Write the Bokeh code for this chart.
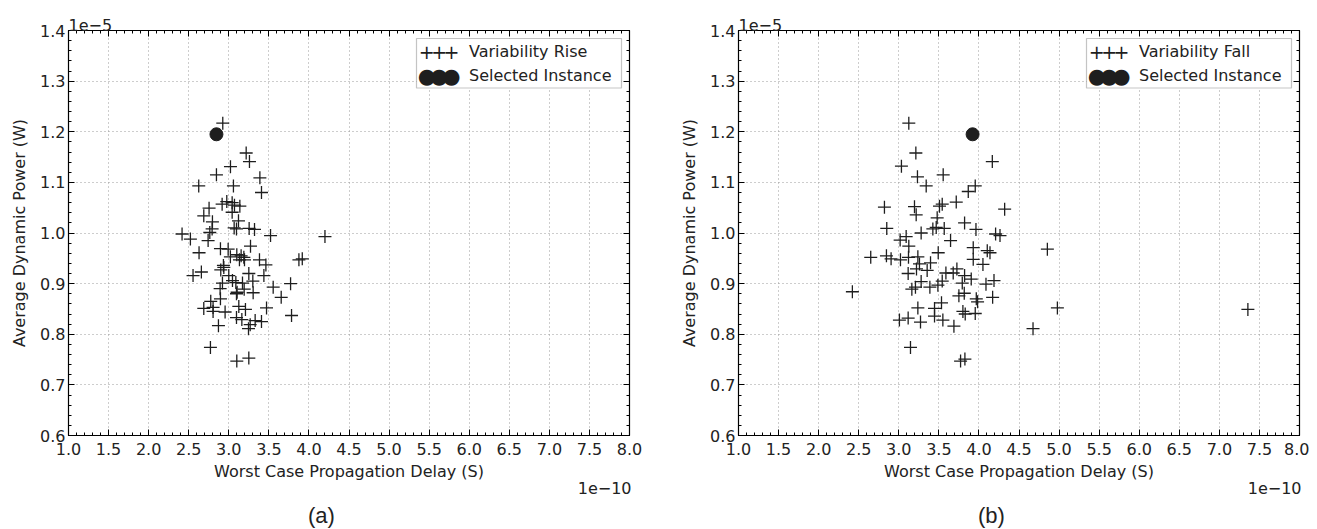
from bokeh.plotting import figure
from bokeh.models import (FixedTicker, LinearAxis, Label, BoxAnnotation, Title,
                          PrintfTickFormatter, Range1d, CustomJSTickFormatter, ColumnDataSource)
from bokeh.layouts import row
from bokeh.embed import file_html
from bokeh.resources import INLINE

# ---- data (delay in units of 1e-10 s, power in units of 1e-5 W) ----
rise_delay = [2.925, 3.217, 3.258, 3.021, 2.846, 3.388, 2.625, 3.058, 3.408, 2.917,
              2.975, 3.042, 3.071, 3.138, 2.754, 2.688, 3.042, 2.796, 3.121, 3.067,
              2.792, 3.096, 3.254, 3.321, 2.763, 2.417, 2.521, 2.742, 3.521, 4.200,
              3.271, 2.896, 2.992, 2.629, 3.154, 3.188, 3.133, 3.196, 3.875, 3.917,
              3.383, 3.463, 2.933, 2.658, 2.554, 2.900, 3.000, 3.250, 3.438, 3.046,
              3.088, 2.921, 3.171, 3.300, 3.771, 3.554, 2.892, 3.192, 3.304, 3.096,
              3.654, 2.896, 2.775, 2.804, 2.688, 2.804, 2.954, 3.125, 3.208, 3.471,
              3.096, 3.163, 3.783, 3.329, 3.408, 3.267, 2.871, 3.246, 2.771, 3.100,
              3.250, 2.938, 3.104, 3.020, 3.100]
rise_power = [1.217, 1.158, 1.141, 1.131, 1.115, 1.109, 1.093, 1.093, 1.080, 1.057,
              1.062, 1.060, 1.055, 1.053, 1.049, 1.034, 1.041, 1.022, 1.024, 1.010,
              1.008, 1.008, 1.009, 1.007, 1.001, 0.998, 0.988, 0.985, 0.995, 0.993,
              0.974, 0.969, 0.968, 0.961, 0.955, 0.952, 0.947, 0.947, 0.947, 0.949,
              0.947, 0.937, 0.936, 0.923, 0.916, 0.927, 0.916, 0.920, 0.916, 0.906,
              0.902, 0.901, 0.901, 0.905, 0.900, 0.893, 0.890, 0.889, 0.882, 0.880,
              0.873, 0.870, 0.865, 0.853, 0.851, 0.845, 0.844, 0.855, 0.849, 0.852,
              0.833, 0.829, 0.837, 0.827, 0.825, 0.819, 0.817, 0.811, 0.774, 0.747,
              0.753, 0.932, 0.883, 0.953, 0.957]

fall_delay = [3.125, 3.213, 4.167, 3.033, 3.233, 3.554, 3.342, 3.954, 3.867, 2.821,
              3.196, 3.217, 3.542, 3.717, 3.508, 4.321, 3.479, 3.467, 3.567, 3.425,
              3.821, 3.963, 2.850, 3.279, 4.208, 4.263, 3.092, 3.017, 3.646, 3.125,
              3.929, 4.104, 4.138, 3.492, 2.650, 2.846, 2.904, 3.021, 3.121, 3.238,
              3.258, 3.396, 3.354, 3.929, 4.050, 3.117, 3.221, 3.725, 3.588, 3.679,
              3.821, 3.542, 3.904, 3.279, 3.208, 3.163, 3.388, 3.488, 3.792, 4.088,
              4.188, 2.421, 3.750, 3.817, 3.967, 3.983, 4.171, 3.533, 3.238, 3.446,
              3.800, 3.829, 3.954, 3.117, 3.008, 3.446, 3.271, 3.550, 3.688, 4.675,
              3.146, 3.771, 3.825, 4.854, 4.979, 7.356]
fall_power = [1.217, 1.158, 1.141, 1.132, 1.111, 1.115, 1.093, 1.093, 1.082, 1.051,
              1.052, 1.036, 1.057, 1.061, 1.053, 1.047, 1.030, 1.011, 1.009, 1.008,
              1.020, 1.007, 1.009, 1.000, 0.998, 0.995, 0.993, 0.986, 0.985, 0.974,
              0.971, 0.965, 0.961, 0.961, 0.952, 0.955, 0.949, 0.947, 0.952, 0.953,
              0.939, 0.941, 0.926, 0.948, 0.938, 0.920, 0.929, 0.929, 0.921, 0.921,
              0.916, 0.905, 0.909, 0.904, 0.893, 0.889, 0.893, 0.897, 0.901, 0.899,
              0.906, 0.884, 0.876, 0.881, 0.870, 0.864, 0.873, 0.862, 0.852, 0.851,
              0.845, 0.840, 0.841, 0.832, 0.828, 0.836, 0.824, 0.828, 0.816, 0.811,
              0.774, 0.747, 0.751, 0.968, 0.852, 0.849]

selected_rise_delay = [2.846]
selected_rise_power = [1.195]
selected_fall_delay = [3.921]
selected_fall_power = [1.195]

x_ticks = [1.0, 1.5, 2.0, 2.5, 3.0, 3.5, 4.0, 4.5, 5.0, 5.5, 6.0, 6.5, 7.0, 7.5, 8.0]
y_ticks = [0.6, 0.7, 0.8, 0.9, 1.0, 1.1, 1.2, 1.3, 1.4]
x_range_limits = (1.0, 8.0)
y_range_limits = (0.6, 1.4)

x_minor = [round(x_ticks[0] + 0.1 * i, 2) for i in range(71)]
y_minor = [round(y_ticks[0] + 0.02 * i, 3) for i in range(41)]

FONT = "DejaVu Sans"
TXT = "#222222"
FS = "16px"


def make_panel(delay, power, sel_d, sel_p, series_name, caption, lb, rb, w):
    p = figure(width=w, height=528, x_range=Range1d(*x_range_limits),
               y_range=Range1d(*y_range_limits), output_backend="svg",
               toolbar_location=None, min_border_left=lb, min_border_right=rb,
               min_border_top=30, min_border_bottom=93)
    p.background_fill_color = "white"
    p.border_fill_color = "white"
    p.outline_line_color = "black"
    p.outline_line_width = 1.2

    # offset text for the y axis (matplotlib style "1e-5")
    p.title.text = "1e\u22125"
    p.title.align = "left"
    p.title.text_font = FONT
    p.title.text_font_size = FS
    p.title.text_font_style = "normal"
    p.title.text_color = TXT
    p.title.standoff = 0

    xt = FixedTicker(ticks=x_ticks, minor_ticks=x_minor)
    yt = FixedTicker(ticks=y_ticks, minor_ticks=y_minor)
    p.xaxis.ticker = xt
    p.yaxis.ticker = yt
    p.xgrid.ticker = xt
    p.ygrid.ticker = yt
    p.xaxis.formatter = PrintfTickFormatter(format="%.1f")
    p.yaxis.formatter = PrintfTickFormatter(format="%.1f")

    for ax in (p.xaxis[0], p.yaxis[0]):
        ax.major_tick_in = 6
        ax.major_tick_out = 0
        ax.minor_tick_in = 3
        ax.minor_tick_out = 0
        ax.axis_line_color = "black"
        ax.major_tick_line_color = "black"
        ax.minor_tick_line_color = "black"
        ax.major_label_text_font = FONT
        ax.major_label_text_font_size = FS
        ax.major_label_text_color = TXT
        ax.axis_label_text_font = FONT
        ax.axis_label_text_font_size = FS
        ax.axis_label_text_font_style = "normal"
        ax.axis_label_text_color = TXT

    p.xaxis.axis_label = "Worst Case Propagation Delay (S)"
    p.yaxis.axis_label = "Average Dynamic Power (W)"
    p.xaxis.major_label_standoff = 7
    p.xaxis.axis_label_standoff = 4
    p.yaxis.major_label_standoff = 3
    p.yaxis.axis_label_standoff = 8

    blank = CustomJSTickFormatter(code="return ''")
    for place, tk in (("above", xt), ("right", yt)):
        ax = LinearAxis(ticker=tk, formatter=blank, major_tick_in=6, major_tick_out=0,
                        minor_tick_in=3, minor_tick_out=0, major_label_standoff=0,
                        major_label_text_font_size="0px", axis_line_color="black")
        p.add_layout(ax, place)

    # offset text of the x axis, right aligned under the axis end
    p.add_layout(Title(text="1e\u221210", align="right", offset=-2, standoff=-20,
                       text_font=FONT, text_font_size=FS, text_font_style="normal",
                       text_color=TXT), "below")
    # spacer before the caption (one white outward tick gives the panel its height)
    spacer = LinearAxis(ticker=FixedTicker(ticks=[x_ticks[0]]), formatter=blank,
                        axis_line_color=None, major_tick_line_color="white",
                        minor_tick_line_color=None, major_tick_in=0, major_tick_out=17,
                        minor_tick_in=0, minor_tick_out=0, major_label_standoff=0,
                        major_label_text_font_size="0px")
    p.add_layout(spacer, "below")
    # sub-figure caption
    p.add_layout(Title(text=caption, align="left", offset=239.5, standoff=0,
                       text_font="Liberation Sans", text_font_size="22px",
                       text_font_style="normal", text_color=TXT), "below")

    for g in (p.xgrid[0], p.ygrid[0]):
        g.grid_line_color = "#9a9a9a"
        g.grid_line_dash = "1 3"
        g.grid_line_width = 1

    src = ColumnDataSource(dict(x=delay, y=power))
    p.scatter("x", "y", source=src, marker="cross", size=13, line_color="#1e1e1e",
              line_width=1.3)
    sel = ColumnDataSource(dict(x=sel_d, y=sel_p))
    p.scatter("x", "y", source=sel, marker="circle", size=13, fill_color="#1e1e1e",
              line_color="#1e1e1e")

    # legend (drawn in screen units relative to the frame)
    p.add_layout(BoxAnnotation(left=348, right=553, top=397, bottom=347.5,
                               left_units="screen", right_units="screen",
                               top_units="screen", bottom_units="screen",
                               fill_color="white", fill_alpha=1.0,
                               line_color="#3a3a3a", line_width=1.2))
    for i in range(3):
        p.add_layout(Label(x=358.3 + 12.3 * i, y=384, x_units="screen", y_units="screen",
                           text="+", text_font=FONT, text_font_size="19px",
                           text_color="#1e1e1e", text_align="center",
                           text_baseline="middle"))
        p.add_layout(Label(x=358.3 + 12.3 * i, y=359.7, x_units="screen", y_units="screen",
                           text="\u25cf", text_font=FONT, text_font_size="21px",
                           text_color="#1e1e1e", text_align="center",
                           text_baseline="middle"))
    p.add_layout(Label(x=400.5, y=384, x_units="screen", y_units="screen",
                       text=series_name, text_font=FONT, text_font_size=FS,
                       text_color=TXT, text_baseline="middle"))
    p.add_layout(Label(x=400.5, y=359.7, x_units="screen", y_units="screen",
                       text="Selected Instance", text_font=FONT, text_font_size=FS,
                       text_color=TXT, text_baseline="middle"))
    return p


pa = make_panel(rise_delay, rise_power, selected_rise_delay, selected_rise_power,
                "Variability Rise", "(a)", 68, 29, 658)
pb = make_panel(fall_delay, fall_power, selected_fall_delay, selected_fall_power,
                "Variability Fall", "(b)", 80, 10, 651)

layout = row(pa, pb)
open("out.html", "w").write(file_html(layout, INLINE))
